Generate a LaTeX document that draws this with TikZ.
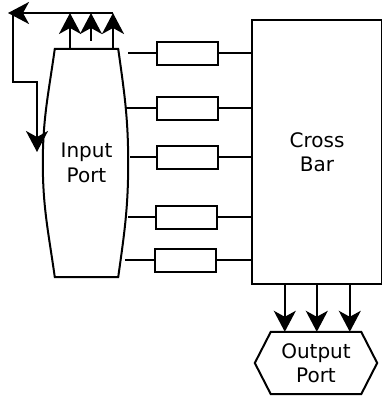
\documentclass[tikz,border=0pt]{standalone}
\usepackage{fontspec}
\setmainfont{DejaVu Sans}
\usetikzlibrary{arrows.meta, positioning, calc}

\begin{document}
\begin{tikzpicture}[
  x=1pt, y=-1pt,
  every node/.style={font=\fontsize{20}{24.5}\selectfont},
  port/.style={minimum width=63pt, minimum height=228pt, align=center, inner sep=0pt},
  outport/.style={minimum width=90pt, minimum height=62pt, align=center, inner sep=0pt},
  res/.style={draw, line width=2pt, minimum width=61pt, minimum height=23pt, inner sep=0pt},
  bar/.style={draw, line width=2pt, minimum width=130pt, minimum height=264pt, align=center},
  wire/.style={line width=2pt},
  arrow/.style={line width=2pt, -{Stealth[length=21pt, width=22pt, inset=6pt]}}
]
\useasboundingbox (0,0) rectangle (381,397);

% input port (barrel outline drawn round its node)
\node[port] (inp) at (86.5,163) {Input\\Port};
\draw[wire] (inp.north west) -- (inp.north east)
  to[out=-82, in=90] ($(inp.east)+(10,0)$)
  to[out=-90, in=82] (inp.south east) -- (inp.south west)
  to[out=98, in=-90] ($(inp.west)+(-12,0)$)
  to[out=90, in=-98] cycle;

% cross bar
\node[bar] (cb) at (317,152) {Cross\\Bar};

% output port (hexagon)
\node[outport] (outp) at (316,363) {Output\\Port};
\draw[wire] (outp.north west) -- (outp.north east) -- ($(outp.east)+(16,0)$)
  -- (outp.south east) -- (outp.south west) -- ($(outp.west)+(-16,0)$) -- cycle;

% links between the ports
\node[res] (r1) at (187.5,53) {};
\node[res] (r2) at (187.5,108) {};
\node[res] (r3) at (187.5,157) {};
\node[res] (r4) at (186.5,217) {};
\node[res] (r5) at (185.5,260) {};

\coordinate (l1) at (128,53);
\coordinate (l2) at (125,108);
\coordinate (l3) at (130,157);
\coordinate (l4) at (128,217);
\coordinate (l5) at (125,260);

\draw[wire] (l1) -- (r1.west);
\draw[wire] (l2) -- (r2.west);
\draw[wire] (l3) -- (r3.west);
\draw[wire] (l4) -- (r4.west);
\draw[wire] (l5) -- (r5.west);

\draw[wire] (r1.east) -- (r1.east -| cb.west);
\draw[wire] (r2.east) -- (r2.east -| cb.west);
\draw[wire] (r3.east) -- (r3.east -| cb.west);
\draw[wire] (r4.east) -- (r4.east -| cb.west);
\draw[wire] (r5.east) -- (r5.east -| cb.west);

% feedback from the top of the input port
\coordinate (t1) at (70,13);
\coordinate (t2) at (91,13);
\coordinate (t3) at (113,13);
\coordinate (topL) at (8,13);
\coordinate (fb) at (13,13);
\coordinate (fbin) at (37,152);

\draw[arrow] (t1 |- inp.north) -- (t1);
\draw[arrow] ($(t2 |- inp.north)+(0,-8)$) -- (t2);
\draw[arrow] (t3 |- inp.north) -- (t3);
\draw[arrow] (t3) -- (topL);
\draw[arrow] (fb) -- ++(0,69) -| (fbin);

% cross bar to output port
\coordinate (o1) at ($(outp.north west)+(14,0)$);
\coordinate (o2) at ($(outp.north west)+(46,0)$);
\coordinate (o3) at ($(outp.north west)+(79,0)$);

\draw[arrow] (cb.south -| o1) -- (o1);
\draw[arrow] (cb.south -| o2) -- (o2);
\draw[arrow] (cb.south -| o3) -- (o3);
\end{tikzpicture}
\end{document}
